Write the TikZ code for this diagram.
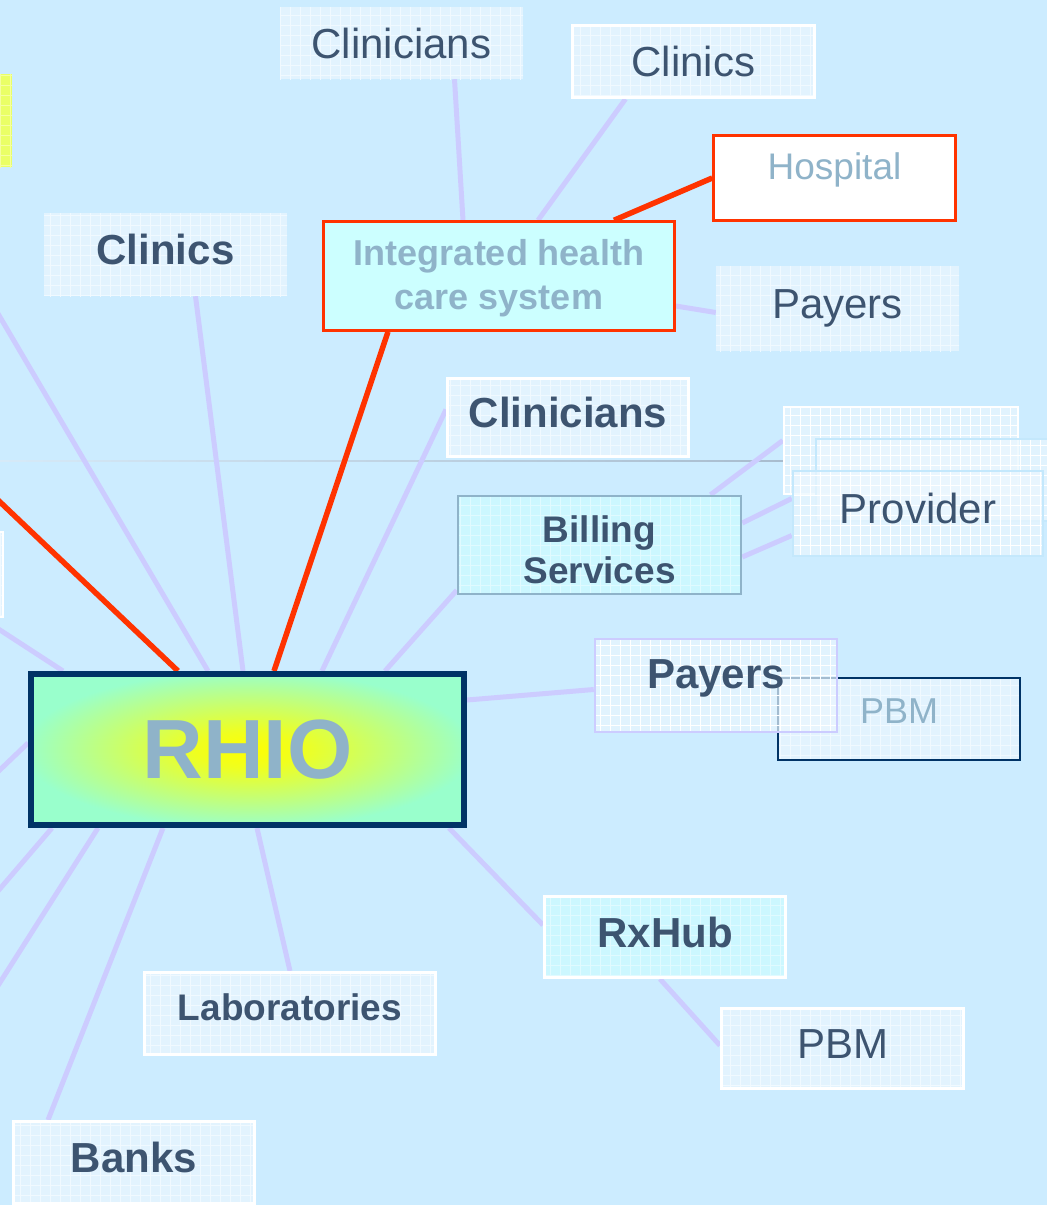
\documentclass[tikz,border=0pt]{standalone}
\usepackage{fontspec}
\setmainfont{Liberation Sans}
\usetikzlibrary{positioning,calc,patterns.meta}

\definecolor{bgblue}{RGB}{204,236,255}
\definecolor{boxfill}{RGB}{226,243,254}
\definecolor{gridline}{RGB}{240,249,255}
\definecolor{cyanfill}{RGB}{204,247,255}
\definecolor{ihcsfill}{RGB}{204,255,255}
\definecolor{darktext}{RGB}{61,84,112}
\definecolor{greytext}{RGB}{143,179,201}
\definecolor{redline}{RGB}{255,51,0}
\definecolor{lavender}{RGB}{204,204,255}
\definecolor{navy}{RGB}{0,51,102}
\definecolor{rhiogreen}{RGB}{153,255,204}
\definecolor{yellowbox}{RGB}{234,255,102}
\definecolor{yellowgrid}{RGB}{244,255,160}
\definecolor{provedge}{RGB}{196,232,252}
\definecolor{sepfaint}{RGB}{214,234,248}
\definecolor{sepgrey}{RGB}{168,188,206}

\pgfdeclareradialshading{rhioshade}{\pgfpoint{0bp}{0bp}}{color(0bp)=(yellow); color(6bp)=(yellow!85!rhiogreen); color(26bp)=(rhiogreen); color(50bp)=(rhiogreen)}

\pgfdeclarelayer{backdrop}
\pgfdeclarelayer{links}
\pgfsetlayers{backdrop,links,main}

\tikzset{
  gridbox/.style={rectangle, inner sep=0pt, preaction={fill=boxfill},
    pattern={Hatch[angle=0, distance=10pt, line width=0.8pt]}, pattern color=gridline, text=darktext},
  cyanbox/.style={rectangle, inner sep=0pt, preaction={fill=cyanfill},
    pattern={Hatch[angle=0, distance=10pt, line width=0.8pt]}, pattern color=cyanfill!60!white, text=darktext},
  glassbox/.style={rectangle, inner sep=0pt, preaction={fill=boxfill!70!white, fill opacity=0.7},
    pattern={Hatch[angle=0, distance=10pt, line width=0.8pt]}, pattern color=white,
    fill opacity=0.7, text opacity=1, text=darktext},
  txtreg/.style={font=\fontsize{42}{48}\selectfont, text height=30pt, text depth=10pt},
  txtbold/.style={font=\bfseries\fontsize{42}{48}\selectfont, text height=30pt, text depth=10pt},
  link/.style={draw=lavender, line width=5pt},
  redlink/.style={draw=redline, line width=5.5pt}
}

\begin{document}
\begin{tikzpicture}[x=1pt,y=-1pt]
  % slide background
  \begin{pgfonlayer}{backdrop}
    \fill[bgblue] (0,0) rectangle (1047,1205);
    \fill[left color=sepfaint, right color=sepgrey] (0,460.5) rectangle (783,461.5);
  \end{pgfonlayer}
  \useasboundingbox (0,0) rectangle (1047,1205);

  % boxes cut off at the left edge
  \path[gridbox, preaction={fill=yellowbox}, pattern color=yellowgrid] (-230,74) rectangle (12,167);
  \path[gridbox, draw=white, line width=2.5pt] (-240,532) rectangle (3,617);

  % integrated health care system and its members
  \node[gridbox, txtreg, text depth=0pt, minimum width=243pt, minimum height=72pt] (clinTop) at (401.5,43) {Clinicians};
  \node[gridbox, txtreg, text depth=0pt, draw=white, line width=3pt, minimum width=242pt, minimum height=72pt] (clinicsTop) at (693.5,61.5) {Clinics};
  \node[rectangle, fill=white, draw=redline, line width=2.5pt, text=greytext,
        font=\fontsize{37}{44}\selectfont, text height=26.6pt, text depth=23pt,
        minimum width=242pt, minimum height=85pt] (hospital) at (834.5,178) {Hospital};
  \node[rectangle, fill=ihcsfill, draw=redline, line width=2.5pt, text=greytext, align=center,
        font=\bfseries\fontsize{36}{44}\selectfont,
        minimum width=351pt, minimum height=109pt] (ihcs) at (499,276) {\rule{0pt}{31pt}Integrated health\\care system};
  \node[gridbox, txtreg, minimum width=243pt, minimum height=85pt] (payersTop) at (837.5,308.5) {Payers};

  % direct members of the RHIO
  \node[gridbox, txtbold, minimum width=243pt, minimum height=83pt] (clinicsLeft) at (165.5,254.5) {Clinics};
  \node[gridbox, txtbold, draw=white, line width=3pt, minimum width=241pt, minimum height=78pt] (clinMid) at (568,417.5) {Clinicians};

  % provider stack
  \node[glassbox, draw=white, line width=2.5pt, minimum width=234pt, minimum height=87pt] (provA) at (901,450.5) {};
  \node[glassbox, draw=provedge, line width=2.5pt, minimum width=248pt, minimum height=82pt] (provB) at (940,480) {};
  \node[glassbox, txtreg, draw=provedge, line width=2.5pt, minimum width=250pt, minimum height=85pt] (provC) at (918,513.5) {Provider};
  \node[cyanbox, draw=greytext, line width=2.5pt, align=center, font=\bfseries\fontsize{37}{41}\selectfont,
        minimum width=283pt, minimum height=98pt] (billing) at (599.5,545) {\rule{0pt}{36pt}Billing\\Services};

  % payers and PBM
  \node[gridbox, draw=navy, line width=2.5pt, text=greytext, font=\fontsize{36}{42}\selectfont,
        text height=26pt, text depth=18pt, minimum width=242pt, minimum height=82pt] (pbmMid) at (899,719) {PBM};
  \node[glassbox, draw=lavender, line width=2.5pt, font=\bfseries\fontsize{42}{48}\selectfont,
        text height=30pt, text depth=24pt, minimum width=242pt, minimum height=93pt] (payersMid) at (716,685.5) {Payers};

  % the hub
  \node[rectangle, shading=rhioshade, draw=navy, line width=6pt, text=greytext,
        font=\bfseries\fontsize{84}{90}\selectfont,
        minimum width=433pt, minimum height=151pt] (rhio) at (247.5,749.5) {RHIO};

  % lower members
  \node[cyanbox, txtbold, draw=white, line width=3pt, minimum width=241pt, minimum height=81pt] (rxhub) at (665,937) {RxHub};
  \node[gridbox, txtreg, draw=white, line width=3pt, minimum width=242pt, minimum height=80pt] (pbmBot) at (842.5,1048.5) {PBM};
  \node[gridbox, draw=white, line width=3pt, font=\bfseries\fontsize{37}{44}\selectfont,
        text height=26.6pt, text depth=13pt, minimum width=291pt, minimum height=82pt] (labs) at (290,1013.5) {Laboratories};
  \node[gridbox, txtbold, draw=white, line width=3pt, minimum width=241pt, minimum height=82pt] (banks) at (134,1162.5) {Banks};

  % free ends beyond the left edge
  \coordinate (edgeA) at (-20,283);
  \coordinate (edgeRed) at (-20,483);
  \coordinate (edgeB) at (-20,617);
  \coordinate (edgeC) at (-20,789);
  \coordinate (edgeD) at (-20,912);
  \coordinate (edgeE) at (-20,1014);

  % connectors
  \begin{pgfonlayer}{links}
    \draw[link] (clinTop.south) ++(53,0) -- ([xshift=-36pt]ihcs.north);
    \draw[link] ([xshift=-68pt]clinicsTop.south) -- ([xshift=39pt]ihcs.north);
    \draw[redlink] (hospital.west) -- ([xshift=115pt]ihcs.north);
    \draw[link] ([yshift=-30pt]ihcs.east) -- ([yshift=-4pt]payersTop.west);

    \draw[redlink] (edgeRed) -- ([xshift=150pt]rhio.north west);
    \draw[link] (edgeA) -- ([xshift=180pt]rhio.north west);
    \draw[link] (edgeB) -- ([xshift=35pt]rhio.north west);
    \draw[link] (edgeC) -- ([yshift=-72pt]rhio.north west);
    \draw[link] ([xshift=30pt]clinicsLeft.south) -- ([xshift=215pt]rhio.north west);
    \draw[redlink] ([xshift=-111pt]ihcs.south) -- ([xshift=246pt]rhio.north west);
    \draw[link] ([yshift=8pt]clinMid.west) -- ([xshift=294pt]rhio.north west);
    \draw[link] ([yshift=5pt]billing.south west) -- ([xshift=357pt]rhio.north west);
    \draw[link] ([yshift=-29pt]rhio.north east) -- ([yshift=-4pt]payersMid.west);

    \draw[link] ([xshift=111pt]billing.north) -- ([yshift=10pt]provA.west);
    \draw[link] ([yshift=22pt]billing.east) -- ([yshift=15pt]provC.west);
    \draw[link] ([yshift=-12pt]billing.east) -- ([yshift=-22pt]provC.west);

    \draw[link] ([xshift=24pt]rhio.south west) -- (edgeD);
    \draw[link] ([xshift=70pt]rhio.south west) -- (edgeE);
    \draw[link] ([xshift=135pt]rhio.south west) -- ([xshift=-86pt]banks.north);
    \draw[link] ([xshift=229pt]rhio.south west) -- (labs.north);
    \draw[link] ([xshift=-18pt]rhio.south east) -- ([yshift=12pt]rxhub.west);
    \draw[link] ([xshift=-5pt]rxhub.south) -- ([yshift=3pt]pbmBot.west);
  \end{pgfonlayer}
\end{tikzpicture}
\end{document}
